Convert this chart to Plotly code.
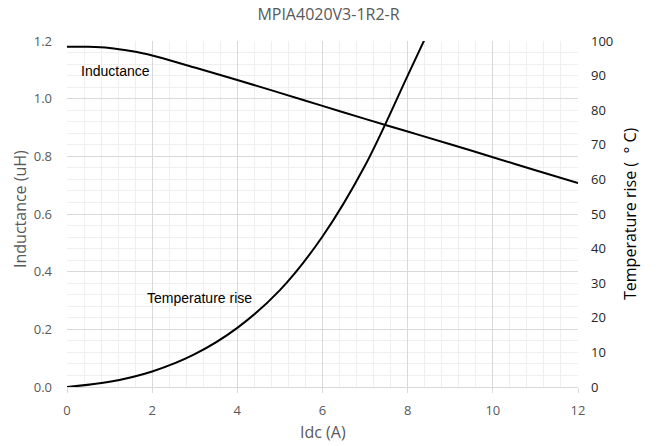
import plotly.graph_objects as go

# Inductance vs DC current
idc_l = [0, 0.5, 1, 1.5, 2, 3, 4, 5, 6, 7, 8, 9, 10, 11, 12]
inductance = [1.18, 1.18, 1.176, 1.165, 1.150, 1.108, 1.065, 1.020, 0.975, 0.930,
              0.886, 0.842, 0.797, 0.752, 0.707]

# Temperature rise vs DC current
idc_t = [0, 1, 2, 3, 4, 5, 6, 7, 8, 8.4]
temp_rise = [0, 1.5, 4.5, 9.5, 17.1, 28.0, 43.5, 64.0, 90.0, 100.5]

x_ticks = [0, 2, 4, 6, 8, 10, 12]
y_ticks = [0.0, 0.2, 0.4, 0.6, 0.8, 1.0, 1.2]
y2_ticks = list(range(0, 101, 10))

GRID = "#d9d9d9"
MINOR = "#efefef"
GRAY = "#595959"
TICK_FONT = dict(family="Open Sans", size=13, color=GRAY)

fig = go.Figure()
fig.add_trace(go.Scatter(x=idc_l, y=inductance, mode="lines", yaxis="y",
                         line=dict(color="black", width=2, shape="spline"),
                         name="Inductance", showlegend=False))
fig.add_trace(go.Scatter(x=idc_t, y=temp_rise, mode="lines", yaxis="y2",
                         line=dict(color="black", width=2, shape="spline"),
                         name="Temperature rise", showlegend=False))

fig.update_layout(
    width=657, height=446,
    margin=dict(l=67, r=79, t=41, b=59),
    paper_bgcolor="white", plot_bgcolor="white",
    title=dict(text="MPIA4020V3-1R2-R", x=0.5, xanchor="center",
               y=1 - 14 / 446, yanchor="middle", yref="container",
               font=dict(family="Open Sans", size=16, color=GRAY)),
    xaxis=dict(range=[0, 12], tickvals=x_ticks, ticktext=[str(v) for v in x_ticks],
               showgrid=True, gridcolor=GRID, gridwidth=1,
               minor=dict(dtick=0.4, showgrid=True, gridcolor=MINOR, gridwidth=1),
               zeroline=False, showline=True, linecolor=GRID, linewidth=1,
               ticks="outside", ticklen=5, tickcolor=GRID,
               ticklabelstandoff=6, tickfont=TICK_FONT),
    yaxis=dict(range=[0, 1.2], tickvals=y_ticks, ticktext=[f"{v:.1f}" for v in y_ticks],
               showgrid=True, gridcolor=GRID, gridwidth=1,
               minor=dict(dtick=0.04, showgrid=True, gridcolor=MINOR, gridwidth=1),
               zeroline=False, showline=False, ticks="",
               ticklabelstandoff=14, tickfont=TICK_FONT),
    yaxis2=dict(range=[0, 100], tickvals=y2_ticks, overlaying="y", side="right",
                showgrid=False, zeroline=False, showline=False, ticks="",
                ticklabelstandoff=12,
                tickfont=dict(family="Open Sans", size=13, color="#262626")),
)

# axis titles
fig.add_annotation(text="Idc (A)", xref="paper", yref="paper", x=0.5, y=0,
                   yanchor="middle", yshift=-45, showarrow=False,
                   font=dict(family="Open Sans", size=16, color=GRAY))
fig.add_annotation(text="Inductance (uH)", xref="paper", yref="paper", x=0, y=0.5,
                   xanchor="center", yanchor="middle", xshift=-47, yshift=5,
                   textangle=-90, showarrow=False,
                   font=dict(family="Open Sans", size=16, color=GRAY))
fig.add_annotation(text="Temperature rise (  ° C)", xref="paper", yref="paper", x=1, y=0.5,
                   xanchor="center", yanchor="middle", xshift=52, yshift=0,
                   textangle=-90, showarrow=False,
                   font=dict(family="Open Sans", size=16, color="black"))

# curve labels
fig.add_annotation(text="Inductance", x=0.275, y=1.095, xref="x", yref="y",
                   xanchor="left", yanchor="middle", showarrow=False,
                   font=dict(family="Liberation Sans", size=14, color="black"))
fig.add_annotation(text="Temperature rise", x=1.83, y=0.309, xref="x", yref="y",
                   xanchor="left", yanchor="middle", showarrow=False,
                   font=dict(family="Liberation Sans", size=14, color="black"))

fig.write_html("out.html")
